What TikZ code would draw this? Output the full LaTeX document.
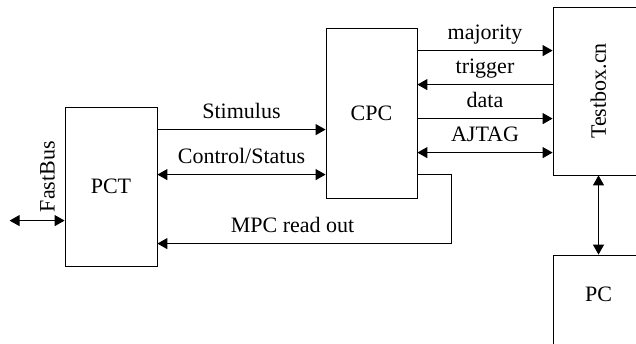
\documentclass[tikz,border=0pt]{standalone}
\usepackage{fontspec}
\setmainfont{Liberation Serif}
\usetikzlibrary{arrows.meta}

\begin{document}
\begin{tikzpicture}[x=1pt,y=-1pt,line width=1pt,>={Triangle[length=10pt,width=11pt]},
		every node/.style={font=\fontsize{22}{26}\selectfont},
		box/.style={draw,line width=0.8pt,minimum width=91pt,inner sep=0pt},
		lbl/.style={above=11pt,inner sep=0pt,text depth=0pt}]
		\useasboundingbox (0,0) rectangle (636,344);
		\node[box,minimum width=92pt,minimum height=159pt] (pct) at (111,186.5) {PCT};
		\node[box,minimum height=170pt] (cpc) at (371.5,113) {CPC};
		\node[box,minimum height=168pt] (tb) at (598.5,91) {\rotatebox{90}{Testbox.cn}};
		\node[box,minimum height=170pt] (pc) at (598.5,340) {};
		\node (pcl) at ([yshift=-40pt]pc.north) {PC};
		\draw[->] ([yshift=-23pt]pct.north east) coordinate (s) -- node[lbl] {Stimulus} (s -| cpc.west);
		\draw[<->] ([yshift=-68pt]pct.north east) coordinate (c) -- node[lbl] {Control/Status} (c -| cpc.west);
		\draw[->] ([yshift=-147pt]cpc.north east) -- ++(34,0) |- node[lbl,pos=0.77] {MPC read out} ([yshift=-137pt]pct.north east);
		\draw[->] ([yshift=-23pt]cpc.north east) coordinate (m) -- node[lbl] {majority} (m -| tb.west);
		\draw[<-] ([yshift=-57pt]cpc.north east) coordinate (t) -- node[lbl] {trigger} (t -| tb.west);
		\draw[->] ([yshift=-91pt]cpc.north east) coordinate (d) -- node[lbl] {data} (d -| tb.west);
		\draw[<->] ([yshift=-125pt]cpc.north east) coordinate (a) -- node[lbl] {AJTAG} (a -| tb.west);
		\draw[<->] (tb.south) -- (pc.north);
		\draw[<->] ([yshift=-114pt]pct.north west) coordinate (f) -- ++(-55,0);
		\node[rotate=90,anchor=base west,inner sep=0pt] (fb) at ([xshift=-10pt,yshift=8pt]f) {FastBus};
	\end{tikzpicture}
\end{document}
